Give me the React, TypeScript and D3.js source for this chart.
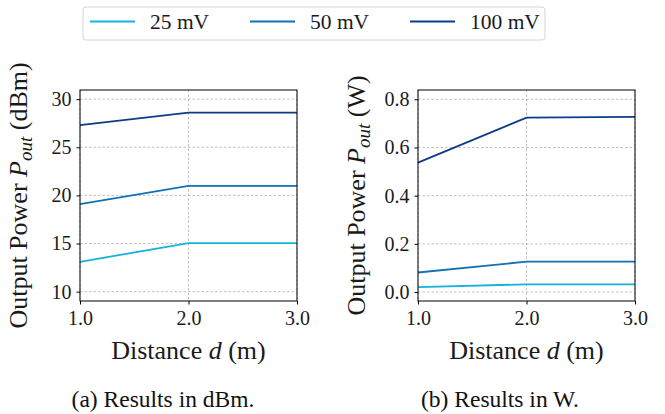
import React, { useRef, useEffect } from 'react';
import * as d3 from 'd3';

const distances = [1, 2, 3];
const seriesNames = ['25 mV', '50 mV', '100 mV'];
const seriesColors = ['#15b2dc', '#1272b4', '#0c3c88'];

// output power in dBm
const dbm25 = [13.1, 15.05, 15.05];
const dbm50 = [19.1, 21.0, 21.0];
const dbm100 = [27.3, 28.6, 28.6];

// output power in W
const w25 = [0.020, 0.032, 0.032];
const w50 = [0.081, 0.126, 0.126];
const w100 = [0.537, 0.724, 0.727];

const xTicks = [1, 2, 3];
const dbmTicks = [10, 15, 20, 25, 30];
const wTicks = [0, 0.2, 0.4, 0.6, 0.8];

const FONT = "'Liberation Serif', 'DejaVu Serif', serif";

const App = () => {
    const svgRef = useRef<SVGSVGElement>(null);

    useEffect(() => {
        if (!svgRef.current) return;
        const svg = d3.select(svgRef.current);
        svg.selectAll('*').remove();

        const panels = [
            { left: 80, right: 297, top: 90, bottom: 301, domain: [9.03, 30.95], ticks: dbmTicks,
              fmt: d3.format('d'), series: [dbm25, dbm50, dbm100], unit: '(dBm)', labelX: 27,
              caption: '(a) Results in dBm.', captionX: 163 },
            { left: 418, right: 635, top: 90, bottom: 301, domain: [-0.0373, 0.8386], ticks: wTicks,
              fmt: d3.format('.1f'), series: [w25, w50, w100], unit: '(W)', labelX: 365,
              caption: '(b) Results in W.', captionX: 500 },
        ];

        panels.forEach(p => {
            const x = d3.scaleLinear().domain([1, 3]).range([p.left, p.right]);
            const y = d3.scaleLinear().domain(p.domain).range([p.bottom, p.top]);
            const g = svg.append('g').style('font-family', FONT);

            // Grid
            g.selectAll('.hgrid').data(p.ticks).enter().append('line')
                .attr('x1', p.left).attr('x2', p.right)
                .attr('y1', d => y(d)).attr('y2', d => y(d))
                .attr('stroke', '#b0b0b0').attr('stroke-width', 0.8).attr('stroke-dasharray', '2.5,2');
            g.selectAll('.vgrid').data(xTicks).enter().append('line')
                .attr('x1', d => x(d)).attr('x2', d => x(d))
                .attr('y1', p.top).attr('y2', p.bottom)
                .attr('stroke', '#b0b0b0').attr('stroke-width', 0.8).attr('stroke-dasharray', '2.5,2');

            // Lines
            const line = d3.line<number>().x((_, i) => x(distances[i])).y(d => y(d));
            p.series.forEach((s, i) => {
                g.append('path').attr('d', line(s)!)
                    .attr('fill', 'none').attr('stroke', seriesColors[i]).attr('stroke-width', 1.8);
            });

            // Frame
            g.append('rect')
                .attr('x', p.left).attr('y', p.top)
                .attr('width', p.right - p.left).attr('height', p.bottom - p.top)
                .attr('fill', 'none').attr('stroke', '#000').attr('stroke-width', 1);

            // Axes
            g.append('g').attr('transform', `translate(0,${p.bottom})`)
                .call(d3.axisBottom(x).tickValues(xTicks).tickFormat(d3.format('.1f')).tickSizeOuter(0).tickSize(3.5).tickPadding(6))
                .call(s => s.select('.domain').remove())
                .call(s => s.selectAll('.tick line').attr('stroke', '#000'))
                .call(s => s.selectAll('.tick text')
                    .style('font-family', FONT).attr('font-size', 20).attr('fill', '#1a1a1a'));
            g.append('g').attr('transform', `translate(${p.left},0)`)
                .call(d3.axisLeft(y).tickValues(p.ticks).tickFormat(p.fmt as any).tickSizeOuter(0).tickSize(3.5).tickPadding(5))
                .call(s => s.select('.domain').remove())
                .call(s => s.selectAll('.tick line').attr('stroke', '#000'))
                .call(s => s.selectAll('.tick text')
                    .style('font-family', FONT).attr('font-size', 20).attr('fill', '#1a1a1a'));

            // X label
            const xl = g.append('text')
                .attr('x', (p.left + p.right) / 2).attr('y', 359)
                .attr('text-anchor', 'middle').attr('font-size', 26).attr('fill', '#1a1a1a');
            xl.append('tspan').text('Distance ');
            xl.append('tspan').attr('font-style', 'italic').text('d');
            xl.append('tspan').text(' (m)');

            // Y label
            const cy = (p.top + p.bottom) / 2;
            const yl = g.append('text')
                .attr('transform', `translate(${p.labelX},${cy}) rotate(-90)`)
                .attr('text-anchor', 'middle').attr('font-size', 26).attr('fill', '#1a1a1a');
            yl.append('tspan').text('Output Power ');
            yl.append('tspan').attr('font-style', 'italic').text('P');
            yl.append('tspan').attr('font-style', 'italic').attr('font-size', 19).attr('dy', 5).text('out');
            yl.append('tspan').attr('dy', -5).text(' ' + p.unit);

            // Caption
            g.append('text')
                .attr('x', p.captionX).attr('y', 407)
                .attr('text-anchor', 'middle').attr('font-size', 23.5).attr('fill', '#111')
                .text(p.caption);
        });

        // Legend
        const leg = svg.append('g').style('font-family', FONT);
        leg.append('rect')
            .attr('x', 83).attr('y', 7).attr('width', 462).attr('height', 33).attr('rx', 3)
            .attr('fill', '#fff').attr('stroke', '#d6d6d6').attr('stroke-width', 1);
        const legX = d3.scalePoint<string>().domain(seriesNames).range([90, 410]);
        seriesNames.forEach((n, i) => {
            const lx = legX(n)!;
            leg.append('line')
                .attr('x1', lx).attr('x2', lx + 45).attr('y1', 21.5).attr('y2', 21.5)
                .attr('stroke', seriesColors[i]).attr('stroke-width', 1.8);
            leg.append('text')
                .attr('x', lx + 60).attr('y', 28.5)
                .attr('font-size', 21.5).attr('fill', '#1a1a1a')
                .text(n);
        });
    }, []);

    return (
        <svg ref={svgRef} width={665} height={414}
            style={{ position: 'absolute', left: 0, top: 0, background: '#fff' }} />
    );
};

export default App;
